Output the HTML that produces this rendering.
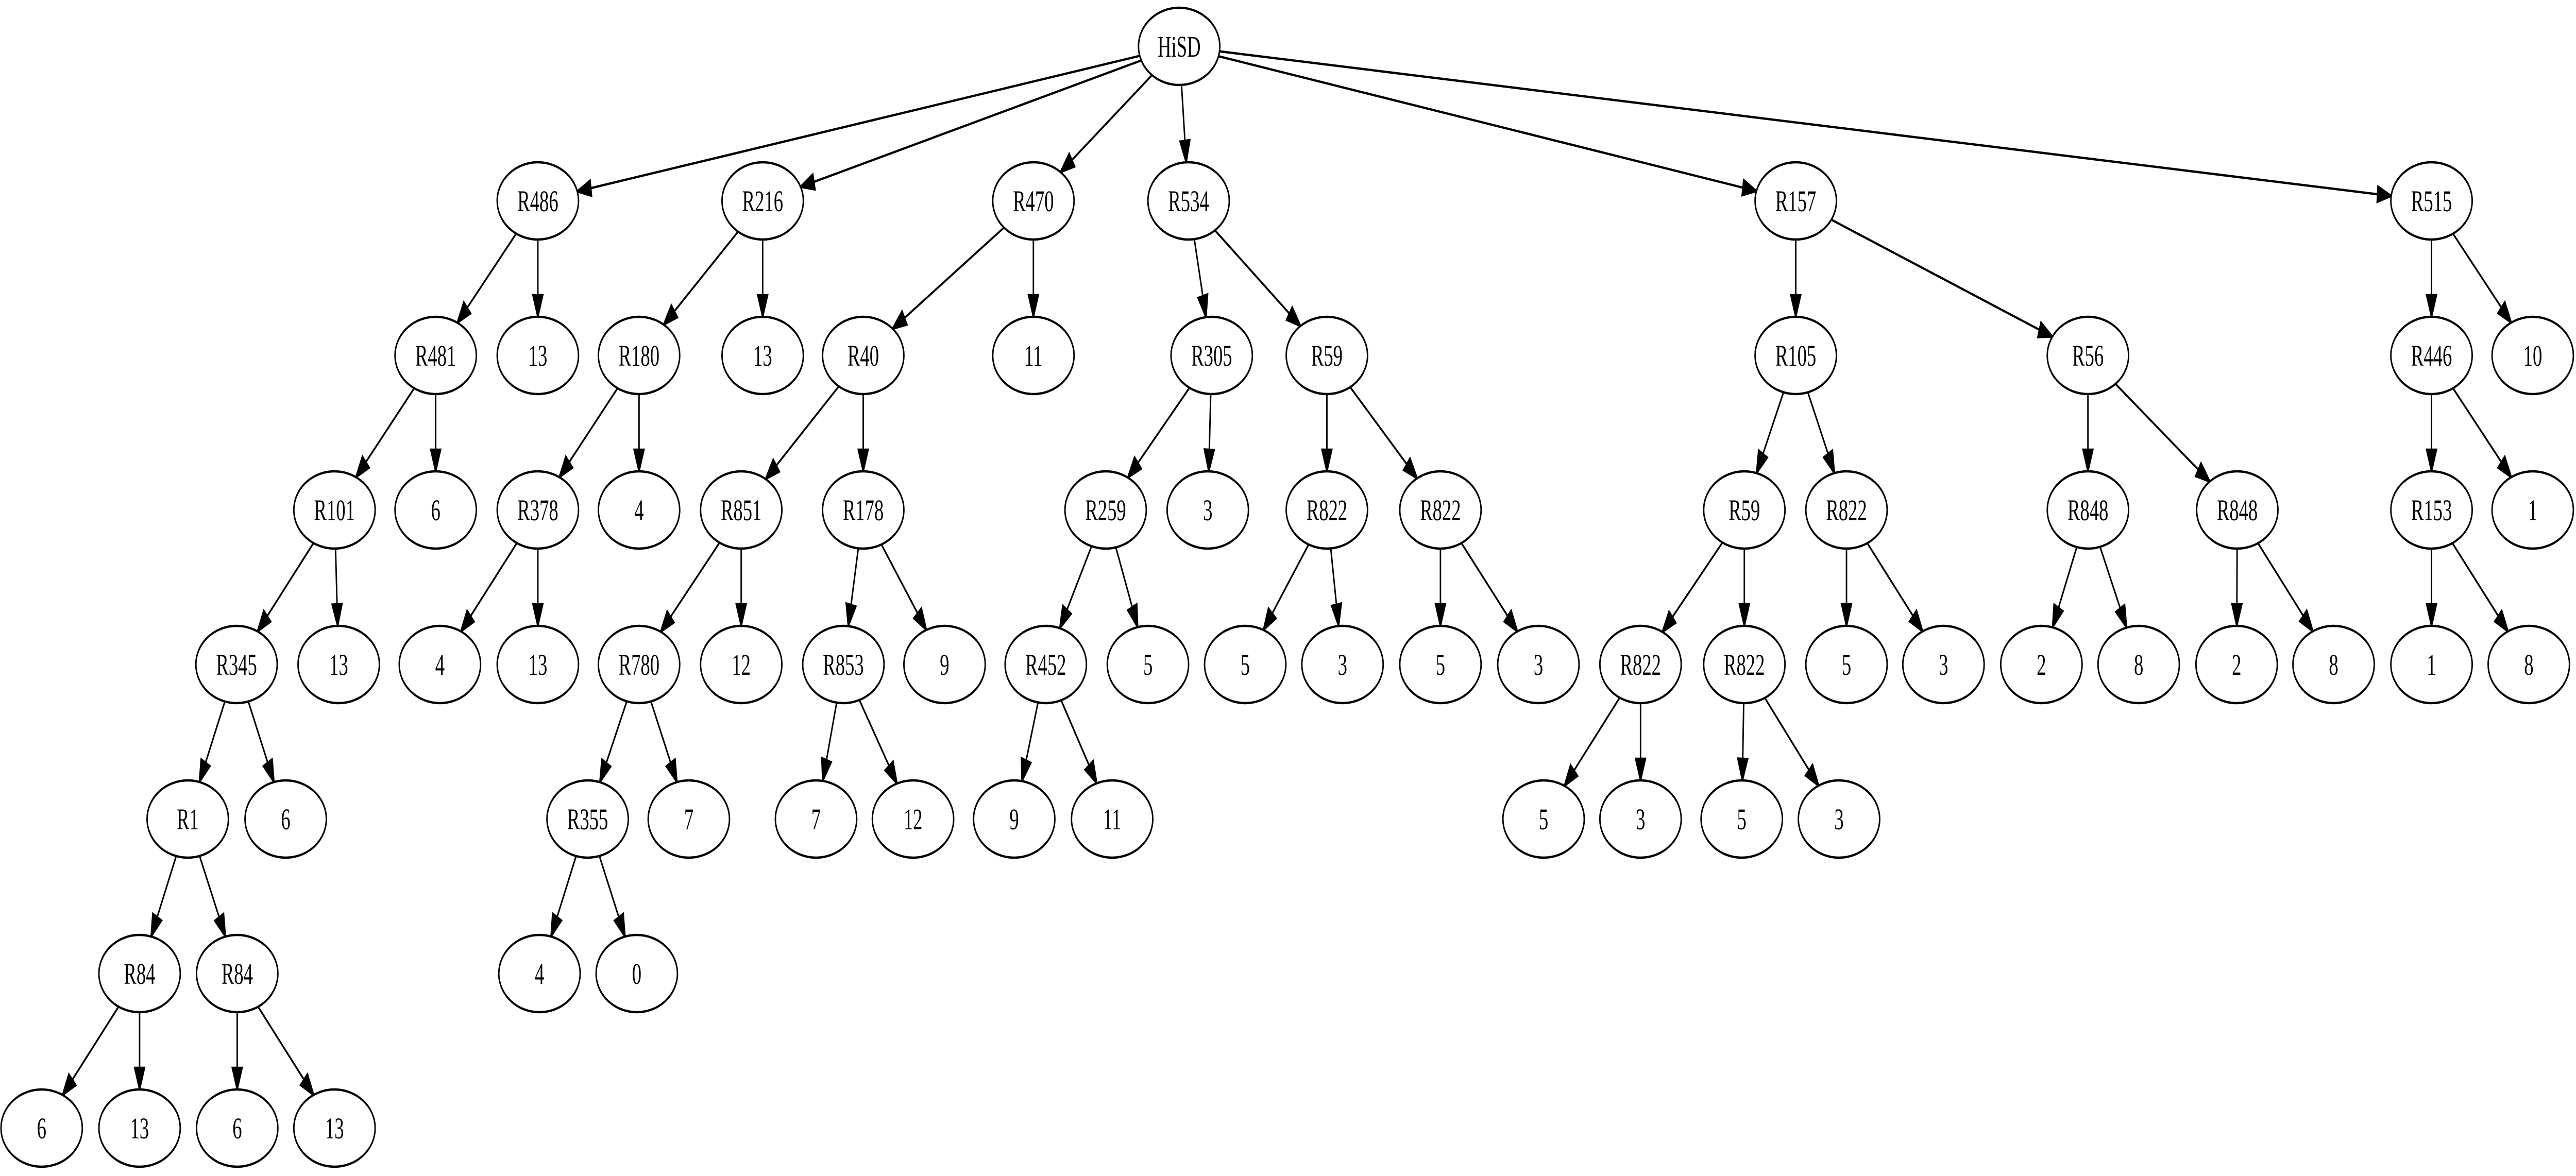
<!DOCTYPE html>
<html><head><meta charset="utf-8"><style>
html,body{margin:0;padding:0;background:#fff;width:100%;height:100%;overflow:hidden;}
svg{display:block;position:absolute;left:0;top:0;width:100%;height:100%;}
text{font-family:"Liberation Serif","Times New Roman",serif;font-size:58px;fill:#000;text-anchor:middle;}
ellipse{fill:#fff;stroke:#000;stroke-width:4.5;}
</style></head><body>
<svg id="g" xmlns="http://www.w3.org/2000/svg" viewBox="0 0 7917 2283" preserveAspectRatio="none">
<rect width="7917" height="2283" fill="#fff"/>
<g id="edges"></g>
<g id="nodes">
<g id="r"><ellipse cx="3624" cy="90" rx="125" ry="75"/><text x="3624" y="110">HiSD</text></g>

<g id="a"><ellipse cx="1653" cy="390" rx="125" ry="75"/><text x="1653" y="410">R486</text></g>
<g id="b"><ellipse cx="2344" cy="390" rx="125" ry="75"/><text x="2344" y="410">R216</text></g>
<g id="c"><ellipse cx="3176" cy="390" rx="125" ry="75"/><text x="3176" y="410">R470</text></g>
<g id="d"><ellipse cx="3653" cy="390" rx="125" ry="75"/><text x="3653" y="410">R534</text></g>
<g id="e"><ellipse cx="5519" cy="390" rx="125" ry="75"/><text x="5519" y="410">R157</text></g>
<g id="f"><ellipse cx="7473" cy="390" rx="125" ry="75"/><text x="7473" y="410">R515</text></g>

<g id="a1"><ellipse cx="1339" cy="690" rx="125" ry="75"/><text x="1339" y="710">R481</text></g>
<g id="a2"><ellipse cx="1653" cy="690" rx="125" ry="75"/><text x="1653" y="710">13</text></g>
<g id="b1"><ellipse cx="1964" cy="690" rx="125" ry="75"/><text x="1964" y="710">R180</text></g>
<g id="b2"><ellipse cx="2344" cy="690" rx="125" ry="75"/><text x="2344" y="710">13</text></g>
<g id="c1"><ellipse cx="2653" cy="690" rx="125" ry="75"/><text x="2653" y="710">R40</text></g>
<g id="c2"><ellipse cx="3176" cy="690" rx="125" ry="75"/><text x="3176" y="710">11</text></g>
<g id="d1"><ellipse cx="3724" cy="690" rx="125" ry="75"/><text x="3724" y="710">R305</text></g>
<g id="d2"><ellipse cx="4078" cy="690" rx="125" ry="75"/><text x="4078" y="710">R59</text></g>
<g id="e1"><ellipse cx="5519" cy="690" rx="125" ry="75"/><text x="5519" y="710">R105</text></g>
<g id="e2"><ellipse cx="6417" cy="690" rx="125" ry="75"/><text x="6417" y="710">R56</text></g>
<g id="f1"><ellipse cx="7473" cy="690" rx="125" ry="75"/><text x="7473" y="710">R446</text></g>
<g id="f2"><ellipse cx="7784" cy="690" rx="125" ry="75"/><text x="7784" y="710">10</text></g>

<g id="a11"><ellipse cx="1028" cy="990" rx="125" ry="75"/><text x="1028" y="1010">R101</text></g>
<g id="a12"><ellipse cx="1339" cy="990" rx="125" ry="75"/><text x="1339" y="1010">6</text></g>
<g id="b11"><ellipse cx="1653" cy="990" rx="125" ry="75"/><text x="1653" y="1010">R378</text></g>
<g id="b12"><ellipse cx="1964" cy="990" rx="125" ry="75"/><text x="1964" y="1010">4</text></g>
<g id="c11"><ellipse cx="2278" cy="990" rx="125" ry="75"/><text x="2278" y="1010">R851</text></g>
<g id="c12"><ellipse cx="2653" cy="990" rx="125" ry="75"/><text x="2653" y="1010">R178</text></g>
<g id="d11"><ellipse cx="3398" cy="990" rx="125" ry="75"/><text x="3398" y="1010">R259</text></g>
<g id="d12"><ellipse cx="3712" cy="990" rx="125" ry="75"/><text x="3712" y="1010">3</text></g>
<g id="d21"><ellipse cx="4078" cy="990" rx="125" ry="75"/><text x="4078" y="1010">R822</text></g>
<g id="d22"><ellipse cx="4427" cy="990" rx="125" ry="75"/><text x="4427" y="1010">R822</text></g>
<g id="e11"><ellipse cx="5361" cy="990" rx="125" ry="75"/><text x="5361" y="1010">R59</text></g>
<g id="e12"><ellipse cx="5675" cy="990" rx="125" ry="75"/><text x="5675" y="1010">R822</text></g>
<g id="e21"><ellipse cx="6417" cy="990" rx="125" ry="75"/><text x="6417" y="1010">R848</text></g>
<g id="e22"><ellipse cx="6876" cy="990" rx="125" ry="75"/><text x="6876" y="1010">R848</text></g>
<g id="f11"><ellipse cx="7473" cy="990" rx="125" ry="75"/><text x="7473" y="1010">R153</text></g>
<g id="f12"><ellipse cx="7784" cy="990" rx="125" ry="75"/><text x="7784" y="1010">1</text></g>

<g id="a111"><ellipse cx="727" cy="1290" rx="125" ry="75"/><text x="727" y="1310">R345</text></g>
<g id="a112"><ellipse cx="1041" cy="1290" rx="125" ry="75"/><text x="1041" y="1310">13</text></g>
<g id="b111"><ellipse cx="1352" cy="1290" rx="125" ry="75"/><text x="1352" y="1310">4</text></g>
<g id="b112"><ellipse cx="1653" cy="1290" rx="125" ry="75"/><text x="1653" y="1310">13</text></g>
<g id="c111"><ellipse cx="1964" cy="1290" rx="125" ry="75"/><text x="1964" y="1310">R780</text></g>
<g id="c112"><ellipse cx="2278" cy="1290" rx="125" ry="75"/><text x="2278" y="1310">12</text></g>
<g id="c121"><ellipse cx="2592" cy="1290" rx="125" ry="75"/><text x="2592" y="1310">R853</text></g>
<g id="c122"><ellipse cx="2903" cy="1290" rx="125" ry="75"/><text x="2903" y="1310">9</text></g>
<g id="d111"><ellipse cx="3214" cy="1290" rx="125" ry="75"/><text x="3214" y="1310">R452</text></g>
<g id="d112"><ellipse cx="3528" cy="1290" rx="125" ry="75"/><text x="3528" y="1310">5</text></g>
<g id="d211"><ellipse cx="3827" cy="1290" rx="125" ry="75"/><text x="3827" y="1310">5</text></g>
<g id="d212"><ellipse cx="4126" cy="1290" rx="125" ry="75"/><text x="4126" y="1310">3</text></g>
<g id="d221"><ellipse cx="4427" cy="1290" rx="125" ry="75"/><text x="4427" y="1310">5</text></g>
<g id="d222"><ellipse cx="4728" cy="1290" rx="125" ry="75"/><text x="4728" y="1310">3</text></g>
<g id="e111"><ellipse cx="5042" cy="1290" rx="125" ry="75"/><text x="5042" y="1310">R822</text></g>
<g id="e112"><ellipse cx="5361" cy="1290" rx="125" ry="75"/><text x="5361" y="1310">R822</text></g>
<g id="e121"><ellipse cx="5675" cy="1290" rx="125" ry="75"/><text x="5675" y="1310">5</text></g>
<g id="e122"><ellipse cx="5973" cy="1290" rx="125" ry="75"/><text x="5973" y="1310">3</text></g>
<g id="e211"><ellipse cx="6274" cy="1290" rx="125" ry="75"/><text x="6274" y="1310">2</text></g>
<g id="e212"><ellipse cx="6573" cy="1290" rx="125" ry="75"/><text x="6573" y="1310">8</text></g>
<g id="e221"><ellipse cx="6874" cy="1290" rx="125" ry="75"/><text x="6874" y="1310">2</text></g>
<g id="e222"><ellipse cx="7172" cy="1290" rx="125" ry="75"/><text x="7172" y="1310">8</text></g>
<g id="f111"><ellipse cx="7473" cy="1290" rx="125" ry="75"/><text x="7473" y="1310">1</text></g>
<g id="f112"><ellipse cx="7772" cy="1290" rx="125" ry="75"/><text x="7772" y="1310">8</text></g>

<g id="a1111"><ellipse cx="577" cy="1590" rx="125" ry="75"/><text x="577" y="1610">R1</text></g>
<g id="a1112"><ellipse cx="878" cy="1590" rx="125" ry="75"/><text x="878" y="1610">6</text></g>
<g id="c1111"><ellipse cx="1806" cy="1590" rx="125" ry="75"/><text x="1806" y="1610">R355</text></g>
<g id="c1112"><ellipse cx="2117" cy="1590" rx="125" ry="75"/><text x="2117" y="1610">7</text></g>
<g id="c1211"><ellipse cx="2508" cy="1590" rx="125" ry="75"/><text x="2508" y="1610">7</text></g>
<g id="c1212"><ellipse cx="2806" cy="1590" rx="125" ry="75"/><text x="2806" y="1610">12</text></g>
<g id="d1111"><ellipse cx="3117" cy="1590" rx="125" ry="75"/><text x="3117" y="1610">9</text></g>
<g id="d1112"><ellipse cx="3418" cy="1590" rx="125" ry="75"/><text x="3418" y="1610">11</text></g>
<g id="e1111"><ellipse cx="4744" cy="1590" rx="125" ry="75"/><text x="4744" y="1610">5</text></g>
<g id="e1112"><ellipse cx="5042" cy="1590" rx="125" ry="75"/><text x="5042" y="1610">3</text></g>
<g id="e1121"><ellipse cx="5353" cy="1590" rx="125" ry="75"/><text x="5353" y="1610">5</text></g>
<g id="e1122"><ellipse cx="5652" cy="1590" rx="125" ry="75"/><text x="5652" y="1610">3</text></g>

<g id="a11111"><ellipse cx="429" cy="1890" rx="125" ry="75"/><text x="429" y="1910">R84</text></g>
<g id="a11112"><ellipse cx="729" cy="1890" rx="125" ry="75"/><text x="729" y="1910">R84</text></g>
<g id="c11111"><ellipse cx="1658" cy="1890" rx="125" ry="75"/><text x="1658" y="1910">4</text></g>
<g id="c11112"><ellipse cx="1957" cy="1890" rx="125" ry="75"/><text x="1957" y="1910">0</text></g>

<g id="a111111"><ellipse cx="128" cy="2190" rx="125" ry="75"/><text x="128" y="2210">6</text></g>
<g id="a111112"><ellipse cx="429" cy="2190" rx="125" ry="75"/><text x="429" y="2210">13</text></g>
<g id="a111121"><ellipse cx="729" cy="2190" rx="125" ry="75"/><text x="729" y="2210">6</text></g>
<g id="a111122"><ellipse cx="1028" cy="2190" rx="125" ry="75"/><text x="1028" y="2210">13</text></g>
</g>
</svg>
<script>
(function(){
var NS="http://www.w3.org/2000/svg";
var eg=document.getElementById("edges");
var groups=document.querySelectorAll("#nodes > g");
var pos={};
groups.forEach(function(g){var e=g.querySelector("ellipse");pos[g.id]=[+e.getAttribute("cx"),+e.getAttribute("cy")];});
var RX=125,RY=75,AL=42,AW=15;
groups.forEach(function(g){
  var id=g.id; if(id==="r")return;
  var pid=id.length===1?"r":id.slice(0,-1);
  var p=pos[pid],c=pos[id];
  var dx=c[0]-p[0],dy=c[1]-p[1],L=Math.sqrt(dx*dx+dy*dy);
  var ux=dx/L,uy=dy/L;
  var t=1/Math.sqrt((ux/RX)*(ux/RX)+(uy/RY)*(uy/RY));
  var sx=p[0]+ux*t,sy=p[1]+uy*t;
  var tx=c[0]-ux*t,ty=c[1]-uy*t;
  var bx=tx-ux*AL,by=ty-uy*AL;
  var ln=document.createElementNS(NS,"line");
  ln.setAttribute("x1",sx);ln.setAttribute("y1",sy);ln.setAttribute("x2",bx);ln.setAttribute("y2",by);
  ln.setAttribute("stroke","#000");ln.setAttribute("stroke-width","4.5");
  eg.appendChild(ln);
  var px=-uy,py=ux;
  var pg=document.createElementNS(NS,"polygon");
  pg.setAttribute("points",tx+","+ty+" "+(bx+px*AW)+","+(by+py*AW)+" "+(bx-px*AW)+","+(by-py*AW));
  pg.setAttribute("fill","#000");pg.setAttribute("stroke","#000");pg.setAttribute("stroke-width","4.5");
  eg.appendChild(pg);
});
})();
</script>
</body></html>
